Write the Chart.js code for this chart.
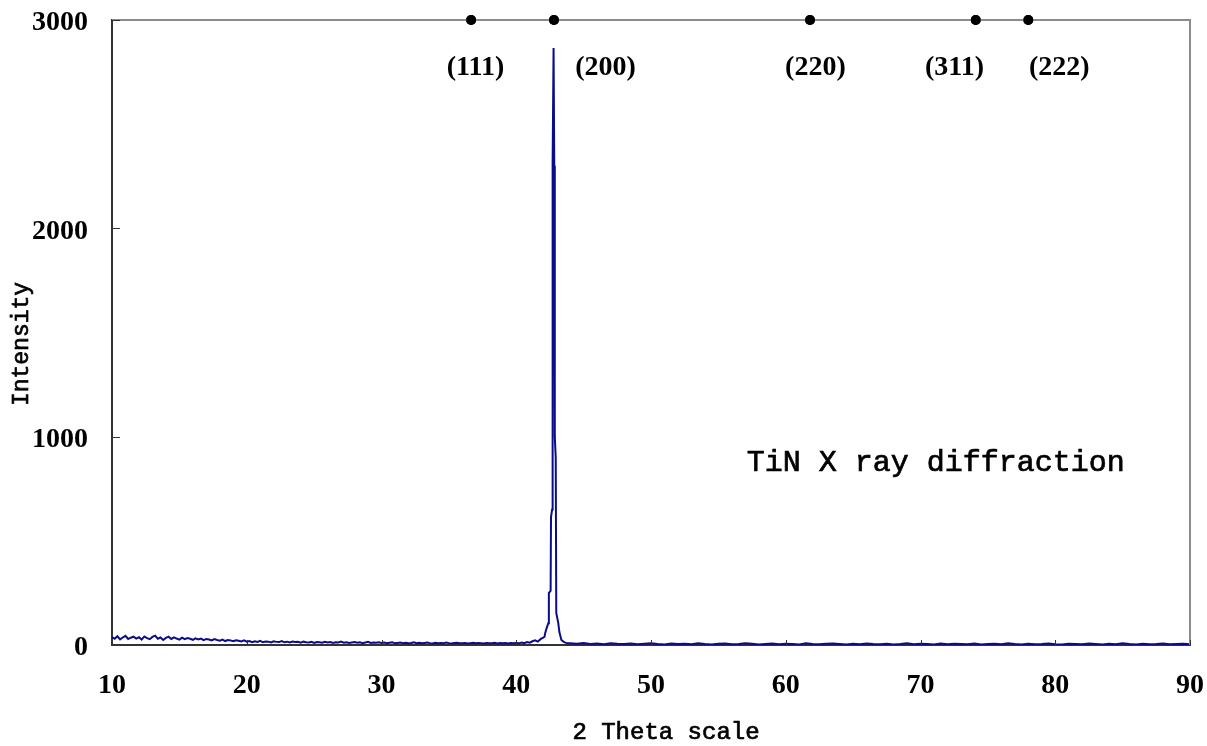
<!DOCTYPE html>
<html>
<head>
<meta charset="utf-8">
<title>TiN X ray diffraction</title>
<script src="https://cdn.jsdelivr.net/npm/chart.js@4.4.1/dist/chart.umd.min.js"></script>
<style>
  html, body { margin: 0; padding: 0; background: #fff; }
  #xrd { display: block; }
</style>
</head>
<body>
<canvas id="xrd" width="1207" height="746"></canvas>
<script>
// background scan, sampled every 0.2 deg from 10.0 to 42.0
var scanStart = 10.0;
var scanStep = 0.2;
var scanCounts = [
  38, 30, 42, 27, 36, 44, 29, 35, 40, 31,
  37, 26, 41, 33, 28, 39, 45, 30, 36, 24,
  34, 40, 29, 37, 31, 26, 35, 28, 33, 30,
  25, 32, 27, 31, 23, 29, 26, 22, 28, 24,
  21, 26, 19, 24, 22, 18, 23, 20, 17, 22, 16,
  19, 14, 18, 15, 20, 13, 17, 16, 12, 18,
  15, 14, 19, 13, 16, 12, 17, 14, 15, 11,
  16, 13, 12, 15, 10, 14, 13, 11, 15, 12,
  14, 10, 13, 12, 16, 11, 13, 10, 12, 14,
  11, 13, 9, 12, 15, 10, 12, 11, 13, 10,
  12, 9, 11, 13, 8, 10, 12, 9, 11, 8,
  10, 13, 9, 11, 8, 10, 12, 9, 7, 11,
  9, 10, 8, 12, 9, 7, 10, 11, 8, 9,
  10, 7, 9, 11, 8, 10, 9, 7, 10, 8,
  9, 11, 7, 9, 8, 10, 7, 9, 8, 10,
  8, 12, 9, 14, 11, 18, 22, 16, 28, 35
];

// (200) reflection, finer steps
var peakTheta = [42.10, 42.15, 42.25, 42.38, 42.42, 42.55, 42.58, 42.66, 42.68, 42.72,
                 42.77, 42.82, 42.86, 42.93, 42.97, 43.12, 43.20, 43.35, 43.55, 43.75];
var peakCounts = [40, 58, 80, 105, 250, 260, 614, 650, 1512, 2314,
                  2866, 2300, 1000, 900, 154, 105, 62, 24, 14, 9];

// tail after the peak, every 0.5 deg from 44.0 to 90.0
var tailStart = 44.0;
var tailStep = 0.5;
var tailCounts = [
  8, 6, 9, 5, 7, 4, 8, 6, 5, 7,
  4, 6, 8, 5, 3, 7, 5, 6, 4, 8,
  5, 3, 6, 7, 4, 5, 8, 6, 3, 5,
  7, 4, 6, 5, 3, 8, 5, 4, 6, 7,
  5, 3, 6, 4, 7, 5, 4, 6, 3, 5,
  8, 4, 6, 5, 3, 7, 4, 6, 5, 4,
  7, 3, 5, 6, 4, 8, 5, 3, 6, 4,
  5, 7, 4, 3, 6, 5, 4, 7, 5, 3,
  6, 4, 8, 5, 3, 6, 4, 5, 7, 4,
  5, 6, 4
];

// reference TiN reflections
var hklNames = ["(111)", "(200)", "(220)", "(311)", "(222)"];
var hklTheta = [36.65, 42.8, 61.8, 74.1, 78.0];
var hklLabelTheta = [36.97, 46.62, 62.2, 72.52, 80.3];

var xMin = 10, xMax = 90, xStep = 10;
var yMin = 0, yMax = 3000, yStep = 1000;

var scan = [];
scanCounts.forEach(function (c, i) {
  scan.push({ x: +(scanStart + i * scanStep).toFixed(2), y: c });
});
peakTheta.forEach(function (t, i) {
  scan.push({ x: t, y: peakCounts[i] });
});
tailCounts.forEach(function (c, i) {
  scan.push({ x: +(tailStart + i * tailStep).toFixed(2), y: c });
});

var markers = hklTheta.map(function (t) { return { x: t, y: yMax }; });

var serif = "'Liberation Serif', 'DejaVu Serif', serif";
var mono = "'Liberation Mono', 'DejaVu Sans Mono', monospace";

// monospace text with a slightly heavier stroke
function heavyText(ctx, text, x, y) {
  ctx.fillText(text, x, y);
  ctx.strokeText(text, x, y);
}

var decorations = {
  id: "decorations",
  afterDraw: function (chart) {
    var ctx = chart.ctx;
    var area = chart.chartArea;
    var xs = chart.scales.x;
    var ys = chart.scales.y;
    ctx.save();

    // top and right frame in grey
    ctx.strokeStyle = "#8c8c8c";
    ctx.lineWidth = 2;
    ctx.beginPath();
    ctx.moveTo(area.left, area.top);
    ctx.lineTo(area.right, area.top);
    ctx.lineTo(area.right, area.bottom);
    ctx.stroke();

    // inward tick marks
    ctx.strokeStyle = "#333";
    ctx.lineWidth = 1;
    xs.ticks.forEach(function (t) {
      var px = Math.round(xs.getPixelForValue(t.value)) + 0.5;
      ctx.beginPath();
      ctx.moveTo(px, area.bottom);
      ctx.lineTo(px, area.bottom - 5);
      ctx.stroke();
    });
    ys.ticks.forEach(function (t) {
      var py = Math.round(ys.getPixelForValue(t.value)) + 0.5;
      ctx.beginPath();
      ctx.moveTo(area.left, py);
      ctx.lineTo(area.left + 8, py);
      ctx.stroke();
    });

    // redraw the reference dots over the frame
    var meta = chart.getDatasetMeta(1);
    meta.data.forEach(function (pt) {
      ctx.fillStyle = "#000";
      ctx.beginPath();
      ctx.arc(pt.x, pt.y, 5, 0, Math.PI * 2);
      ctx.fill();
    });

    // hkl labels under the reference dots
    ctx.fillStyle = "#000";
    ctx.font = "bold 28px " + serif;
    ctx.textAlign = "center";
    ctx.textBaseline = "middle";
    hklNames.forEach(function (name, i) {
      ctx.fillText(name, xs.getPixelForValue(hklLabelTheta[i]), area.top + 48);
    });

    ctx.strokeStyle = "#000";
    ctx.lineWidth = 0.7;

    // annotation
    ctx.font = "30px " + mono;
    ctx.textAlign = "left";
    heavyText(ctx, "TiN X ray diffraction", xs.getPixelForValue(57.1), ys.getPixelForValue(875));

    // axis titles
    ctx.font = "24px " + mono;
    ctx.textAlign = "center";
    heavyText(ctx, "2 Theta scale", 666, 733);
    ctx.translate(22, 344);
    ctx.rotate(-Math.PI / 2);
    ctx.font = "23px " + mono;
    heavyText(ctx, "Intensity", 0, 0);

    ctx.restore();
  }
};

// keep tick labels from pushing the plot area inward
function noOverflow(scale) {
  scale.paddingTop = 0;
  scale.paddingBottom = 0;
  scale.paddingLeft = 0;
  scale.paddingRight = 0;
}

var chart = new Chart(document.getElementById("xrd").getContext("2d"), {
  type: "scatter",
  data: {
    datasets: [
      {
        data: scan,
        showLine: true,
        borderColor: "#0c0c8a",
        borderWidth: 2,
        pointRadius: 0,
        tension: 0
      },
      {
        data: markers,
        pointRadius: 5,
        pointBackgroundColor: "#000",
        pointBorderColor: "#000",
        pointBorderWidth: 0,
        clip: false
      }
    ]
  },
  options: {
    responsive: false,
    animation: false,
    layout: { padding: { top: 20, right: 17, left: 0, bottom: 0 } },
    plugins: {
      legend: { display: false },
      tooltip: { enabled: false }
    },
    scales: {
      x: {
        type: "linear",
        min: xMin,
        max: xMax,
        ticks: {
          stepSize: xStep,
          color: "#000",
          padding: 24,
          maxRotation: 0,
          font: { family: serif, size: 28, weight: "bold" },
          callback: function (v) { return String(v); }
        },
        grid: { display: false, drawTicks: false },
        border: { display: true, color: "#333", width: 2 },
        afterFit: function (scale) { scale.height = 101; noOverflow(scale); }
      },
      y: {
        min: yMin,
        max: yMax,
        ticks: {
          stepSize: yStep,
          color: "#000",
          padding: 24,
          labelOffset: 3,
          font: { family: serif, size: 28, weight: "bold" },
          callback: function (v) { return String(v); }
        },
        grid: { display: false, drawTicks: false },
        border: { display: true, color: "#333", width: 2 },
        afterFit: function (scale) { scale.width = 112; noOverflow(scale); }
      }
    }
  },
  plugins: [decorations]
});
</script>
</body>
</html>
